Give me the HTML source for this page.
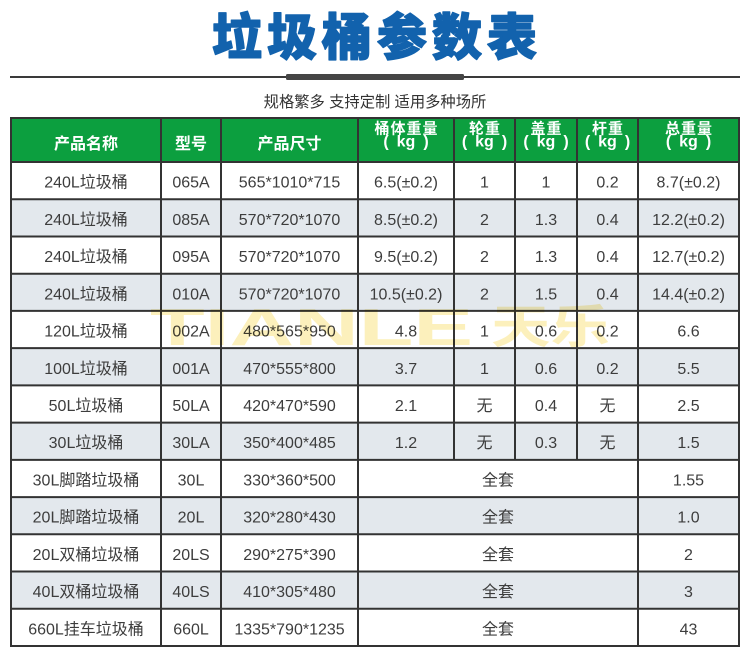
<!DOCTYPE html>
<html>
<head>
<meta charset="utf-8">
<style>
html,body{margin:0;padding:0;background:#fff;}
body{width:750px;height:660px;overflow:hidden;}
svg{display:block;}
.t{font-family:"Liberation Sans","Noto Sans CJK SC",sans-serif;font-size:16px;fill:#3d3d3d;text-anchor:middle;}
.hk{font-family:"Noto Sans CJK SC",sans-serif;font-size:16px;font-weight:bold;fill:#fff;text-anchor:middle;}
.hk2{font-family:"Noto Sans CJK SC",sans-serif;font-size:15px;font-weight:bold;fill:#fff;text-anchor:middle;letter-spacing:1px;}
.hp{font-family:"Liberation Sans",sans-serif;font-size:16px;font-weight:bold;fill:#fff;text-anchor:middle;}
</style>
</head>
<body>
<svg width="750" height="660" viewBox="0 0 750 660" xmlns="http://www.w3.org/2000/svg">
  <rect x="0" y="0" width="750" height="660" fill="#fff"/>
  <!-- Title -->
  <text x="377" y="55" text-anchor="middle" stroke="#1262ad" stroke-width="1.4" stroke-linejoin="round" style="font-family:'Noto Sans CJK SC',sans-serif;font-size:50px;font-weight:900;letter-spacing:5px;fill:#1262ad;">垃圾桶参数表</text>
  <line x1="10" y1="77" x2="740" y2="77" stroke="#3a3a3a" stroke-width="2"/>
  <rect x="286" y="74" width="178" height="6" rx="1.5" fill="#454545"/>
  <text x="375" y="107" text-anchor="middle" style="font-family:'Liberation Sans','Noto Sans CJK SC',sans-serif;font-size:15.3px;fill:#333;">规格繁多 支持定制 适用多种场所</text>

  <!-- Header bg -->
  <rect x="11" y="118" width="728" height="44" fill="#0c9f3f"/>
  <!-- gray rows -->
  <g fill="#e3e8ed">
    <rect x="11" y="199.23" width="728" height="37.23"/>
    <rect x="11" y="273.69" width="728" height="37.23"/>
    <rect x="11" y="348.15" width="728" height="37.23"/>
    <rect x="11" y="422.61" width="728" height="37.23"/>
    <rect x="11" y="497.07" width="728" height="37.23"/>
    <rect x="11" y="571.53" width="728" height="37.23"/>
  </g>

  <!-- Borders -->
  <g stroke="#333" stroke-width="2">
    <line x1="10" y1="118" x2="740" y2="118"/>
    <line x1="10" y1="162" x2="740" y2="162"/>
    <line x1="10" y1="199.23" x2="740" y2="199.23"/>
    <line x1="10" y1="236.46" x2="740" y2="236.46"/>
    <line x1="10" y1="273.69" x2="740" y2="273.69"/>
    <line x1="10" y1="310.92" x2="740" y2="310.92"/>
    <line x1="10" y1="348.15" x2="740" y2="348.15"/>
    <line x1="10" y1="385.38" x2="740" y2="385.38"/>
    <line x1="10" y1="422.61" x2="740" y2="422.61"/>
    <line x1="10" y1="459.84" x2="740" y2="459.84"/>
    <line x1="10" y1="497.07" x2="740" y2="497.07"/>
    <line x1="10" y1="534.3" x2="740" y2="534.3"/>
    <line x1="10" y1="571.53" x2="740" y2="571.53"/>
    <line x1="10" y1="608.76" x2="740" y2="608.76"/>
    <line x1="10" y1="646" x2="740" y2="646"/>
    <line x1="11" y1="117" x2="11" y2="647"/>
    <line x1="161" y1="117" x2="161" y2="647"/>
    <line x1="221" y1="117" x2="221" y2="647"/>
    <line x1="358" y1="117" x2="358" y2="647"/>
    <line x1="454" y1="117" x2="454" y2="459.84"/>
    <line x1="515" y1="117" x2="515" y2="459.84"/>
    <line x1="577" y1="117" x2="577" y2="459.84"/>
    <line x1="638" y1="117" x2="638" y2="647"/>
    <line x1="739" y1="117" x2="739" y2="647"/>
  </g>

  <!-- Header text -->
  <text class="hk" x="86" y="149">产品名称</text>
  <text class="hk" x="191" y="149">型号</text>
  <text class="hk" x="289.5" y="149">产品尺寸</text>

  <text class="hk2" x="406.5" y="133.5">桶体重量</text>
  <text class="hp" x="386" y="146.5">(</text><text class="hp" x="406" y="146.5">kg</text><text class="hp" x="426" y="146.5">)</text>

  <text class="hk2" x="485" y="133.5">轮重</text>
  <text class="hp" x="464.5" y="146.5">(</text><text class="hp" x="484.5" y="146.5">kg</text><text class="hp" x="504.5" y="146.5">)</text>

  <text class="hk2" x="546.5" y="133.5">盖重</text>
  <text class="hp" x="526" y="146.5">(</text><text class="hp" x="546" y="146.5">kg</text><text class="hp" x="566" y="146.5">)</text>

  <text class="hk2" x="608" y="133.5">杆重</text>
  <text class="hp" x="587.5" y="146.5">(</text><text class="hp" x="607.5" y="146.5">kg</text><text class="hp" x="627.5" y="146.5">)</text>

  <text class="hk2" x="689" y="133.5">总重量</text>
  <text class="hp" x="668.5" y="146.5">(</text><text class="hp" x="688.5" y="146.5">kg</text><text class="hp" x="708.5" y="146.5">)</text>

  <!-- Body text -->
  <g>
    <text class="t" x="86" y="187.6">240L垃圾桶</text>
    <text class="t" x="191" y="187.6">065A</text>
    <text class="t" x="289.5" y="187.6">565*1010*715</text>
    <text class="t" x="406" y="187.6">6.5(±0.2)</text>
    <text class="t" x="484.5" y="187.6">1</text>
    <text class="t" x="546" y="187.6">1</text>
    <text class="t" x="607.5" y="187.6">0.2</text>
    <text class="t" x="688.5" y="187.6">8.7(±0.2)</text>

    <text class="t" x="86" y="224.8">240L垃圾桶</text>
    <text class="t" x="191" y="224.8">085A</text>
    <text class="t" x="289.5" y="224.8">570*720*1070</text>
    <text class="t" x="406" y="224.8">8.5(±0.2)</text>
    <text class="t" x="484.5" y="224.8">2</text>
    <text class="t" x="546" y="224.8">1.3</text>
    <text class="t" x="607.5" y="224.8">0.4</text>
    <text class="t" x="688.5" y="224.8">12.2(±0.2)</text>

    <text class="t" x="86" y="262.1">240L垃圾桶</text>
    <text class="t" x="191" y="262.1">095A</text>
    <text class="t" x="289.5" y="262.1">570*720*1070</text>
    <text class="t" x="406" y="262.1">9.5(±0.2)</text>
    <text class="t" x="484.5" y="262.1">2</text>
    <text class="t" x="546" y="262.1">1.3</text>
    <text class="t" x="607.5" y="262.1">0.4</text>
    <text class="t" x="688.5" y="262.1">12.7(±0.2)</text>

    <text class="t" x="86" y="299.3">240L垃圾桶</text>
    <text class="t" x="191" y="299.3">010A</text>
    <text class="t" x="289.5" y="299.3">570*720*1070</text>
    <text class="t" x="406" y="299.3">10.5(±0.2)</text>
    <text class="t" x="484.5" y="299.3">2</text>
    <text class="t" x="546" y="299.3">1.5</text>
    <text class="t" x="607.5" y="299.3">0.4</text>
    <text class="t" x="688.5" y="299.3">14.4(±0.2)</text>

    <text class="t" x="86" y="336.5">120L垃圾桶</text>
    <text class="t" x="191" y="336.5">002A</text>
    <text class="t" x="289.5" y="336.5">480*565*950</text>
    <text class="t" x="406" y="336.5">4.8</text>
    <text class="t" x="484.5" y="336.5">1</text>
    <text class="t" x="546" y="336.5">0.6</text>
    <text class="t" x="607.5" y="336.5">0.2</text>
    <text class="t" x="688.5" y="336.5">6.6</text>

    <text class="t" x="86" y="373.8">100L垃圾桶</text>
    <text class="t" x="191" y="373.8">001A</text>
    <text class="t" x="289.5" y="373.8">470*555*800</text>
    <text class="t" x="406" y="373.8">3.7</text>
    <text class="t" x="484.5" y="373.8">1</text>
    <text class="t" x="546" y="373.8">0.6</text>
    <text class="t" x="607.5" y="373.8">0.2</text>
    <text class="t" x="688.5" y="373.8">5.5</text>

    <text class="t" x="86" y="411">50L垃圾桶</text>
    <text class="t" x="191" y="411">50LA</text>
    <text class="t" x="289.5" y="411">420*470*590</text>
    <text class="t" x="406" y="411">2.1</text>
    <text class="t" x="484.5" y="411">无</text>
    <text class="t" x="546" y="411">0.4</text>
    <text class="t" x="607.5" y="411">无</text>
    <text class="t" x="688.5" y="411">2.5</text>

    <text class="t" x="86" y="448.2">30L垃圾桶</text>
    <text class="t" x="191" y="448.2">30LA</text>
    <text class="t" x="289.5" y="448.2">350*400*485</text>
    <text class="t" x="406" y="448.2">1.2</text>
    <text class="t" x="484.5" y="448.2">无</text>
    <text class="t" x="546" y="448.2">0.3</text>
    <text class="t" x="607.5" y="448.2">无</text>
    <text class="t" x="688.5" y="448.2">1.5</text>

    <text class="t" x="86" y="485.5">30L脚踏垃圾桶</text>
    <text class="t" x="191" y="485.5">30L</text>
    <text class="t" x="289.5" y="485.5">330*360*500</text>
    <text class="t" x="498" y="485.5">全套</text>
    <text class="t" x="688.5" y="485.5">1.55</text>

    <text class="t" x="86" y="522.7">20L脚踏垃圾桶</text>
    <text class="t" x="191" y="522.7">20L</text>
    <text class="t" x="289.5" y="522.7">320*280*430</text>
    <text class="t" x="498" y="522.7">全套</text>
    <text class="t" x="688.5" y="522.7">1.0</text>

    <text class="t" x="86" y="559.9">20L双桶垃圾桶</text>
    <text class="t" x="191" y="559.9">20LS</text>
    <text class="t" x="289.5" y="559.9">290*275*390</text>
    <text class="t" x="498" y="559.9">全套</text>
    <text class="t" x="688.5" y="559.9">2</text>

    <text class="t" x="86" y="597.1">40L双桶垃圾桶</text>
    <text class="t" x="191" y="597.1">40LS</text>
    <text class="t" x="289.5" y="597.1">410*305*480</text>
    <text class="t" x="498" y="597.1">全套</text>
    <text class="t" x="688.5" y="597.1">3</text>

    <text class="t" x="86" y="634.4">660L挂车垃圾桶</text>
    <text class="t" x="191" y="634.4">660L</text>
    <text class="t" x="289.5" y="634.4">1335*790*1235</text>
    <text class="t" x="498" y="634.4">全套</text>
    <text class="t" x="688.5" y="634.4">43</text>
  </g>

  <!-- Watermark -->
  <g style="mix-blend-mode:multiply;">
    <text x="150" y="345" textLength="323" lengthAdjust="spacingAndGlyphs" style="font-family:'Liberation Sans',sans-serif;font-size:52px;font-weight:bold;fill:#fcf0bc;">TIANLE</text>
    <text x="491" y="343" textLength="119" lengthAdjust="spacingAndGlyphs" style="font-family:'Noto Sans CJK SC',sans-serif;font-size:46px;font-weight:bold;fill:#fcf0bc;">天乐</text>
  </g>
</svg>
</body>
</html>
